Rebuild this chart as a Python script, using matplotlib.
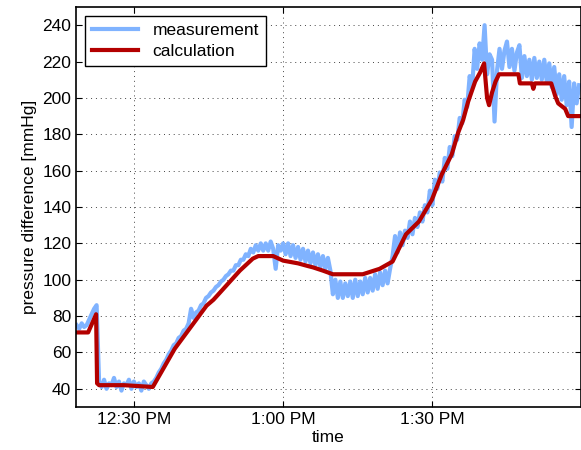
import numpy as np
import matplotlib
matplotlib.use('Agg')
import matplotlib.pyplot as plt

# time in minutes after 12:00 PM
meas_t = np.arange(18.5, 120.0, 0.5)
meas_v = [75, 73, 76, 74, 75, 78, 81, 84, 86,
          44, 41, 45, 40, 43, 42, 46, 41, 44, 39, 43, 42, 45, 40, 44, 41, 43, 39, 44, 42, 40, 43,
          44, 46, 49, 51, 54, 56, 59, 61, 64, 65,
          68, 69, 72, 73, 76, 84, 79, 82, 83, 86,
          87, 90, 91, 93, 94, 96, 97, 99, 100, 102,
          103, 105, 105, 108, 108, 111, 111, 114, 113, 117,
          115, 119, 116, 120, 116, 120, 116, 121, 117, 106,
          119, 116, 120,
          114, 120, 113, 119, 112, 118, 111, 117, 110, 116, 109, 115, 108, 114, 107, 113, 106, 112, 105,
          92, 100, 90, 99, 90, 98, 91, 99, 90, 100, 91, 99, 92, 101, 93, 101, 94, 103, 95, 104, 97, 105, 98, 106,
          113, 124, 115, 126, 119, 127, 123, 132, 125, 134,
          129, 137, 132, 141, 137, 149, 141, 155, 150, 159,
          154, 167, 161, 173, 168, 179, 177, 189, 186, 199,
          195, 212, 206, 227, 216, 230, 221, 240, 213, 224,
          221, 187, 215, 227, 216, 226, 231, 217, 227, 215,
          225, 229, 211, 223, 212, 221, 210, 222, 211, 220,
          210, 221, 209, 219, 206, 217, 202, 213, 199, 212,
          196, 209, 184, 208, 197, 207]

calc_t = [18.36, 20.8, 22.4, 22.6, 23.0, 28.0, 33.8, 38.2, 44.6, 46.0, 47.0, 51.3, 53.9, 55.0,
          58.0, 60.0, 61.0, 63.0, 65.0, 66.0, 68.0, 70.0, 76.0, 79.4, 82.0, 84.7, 87.3, 89.9,
          91.9, 93.9, 95.2, 96.2, 97.2, 98.6, 99.6, 100.4, 101.0, 101.4, 102.0, 102.7, 103.4,
          107.3, 107.6, 110.0, 110.3, 110.6, 113.9, 114.7, 115.3, 116.7, 117.3, 119.8]
calc_v = [71, 71, 81, 43, 42, 42, 41, 62, 85.7, 89, 92, 105, 111.6, 113,
          113, 110.5, 110, 109, 107.5, 106.8, 105, 103, 103, 106, 110, 125, 132, 144,
          158, 169, 181, 188, 198, 209, 214, 219, 200, 196, 203, 209, 213,
          213, 208, 208, 205, 208, 208, 201, 197, 194, 190, 190]

tick_pos = [30, 60, 90]
tick_labels = ['12:30 PM', '1:00 PM', '1:30 PM']

plt.rcParams['font.family'] = 'Liberation Sans'
plt.rcParams['font.size'] = 12.5

fig = plt.figure(figsize=(5.81, 4.5), dpi=100)
ax = fig.add_axes([0.1308, 0.0956, 0.8685, 0.8888])

ax.plot(meas_t, meas_v, color='#80b3ff', lw=3.0, label='measurement')
ax.plot(calc_t, calc_v, color='#b30000', lw=3.0, label='calculation')

ax.set_xlim(18.36, 119.8)
ax.set_ylim(30, 250)
ax.set_yticks(range(40, 241, 20))
ax.set_xticks(tick_pos)
ax.set_xticklabels(tick_labels)
ax.grid(True, linestyle=(0, (1, 4)), color='#444444', linewidth=0.7)
ax.tick_params(direction='in', top=True, right=True, length=4, width=0.8)
for s in ax.spines.values():
    s.set_linewidth(1.2)

ax.set_xlabel('time', labelpad=2)
ax.set_ylabel('pressure difference [mmHg]', labelpad=4)

leg = ax.legend(loc='upper left', fancybox=False, framealpha=1, edgecolor='k',
                handlelength=2.7, borderaxespad=0.5, borderpad=0.4, labelspacing=0.35)
leg.get_frame().set_linewidth(1.0)

plt.savefig('out.png', dpi=100)
